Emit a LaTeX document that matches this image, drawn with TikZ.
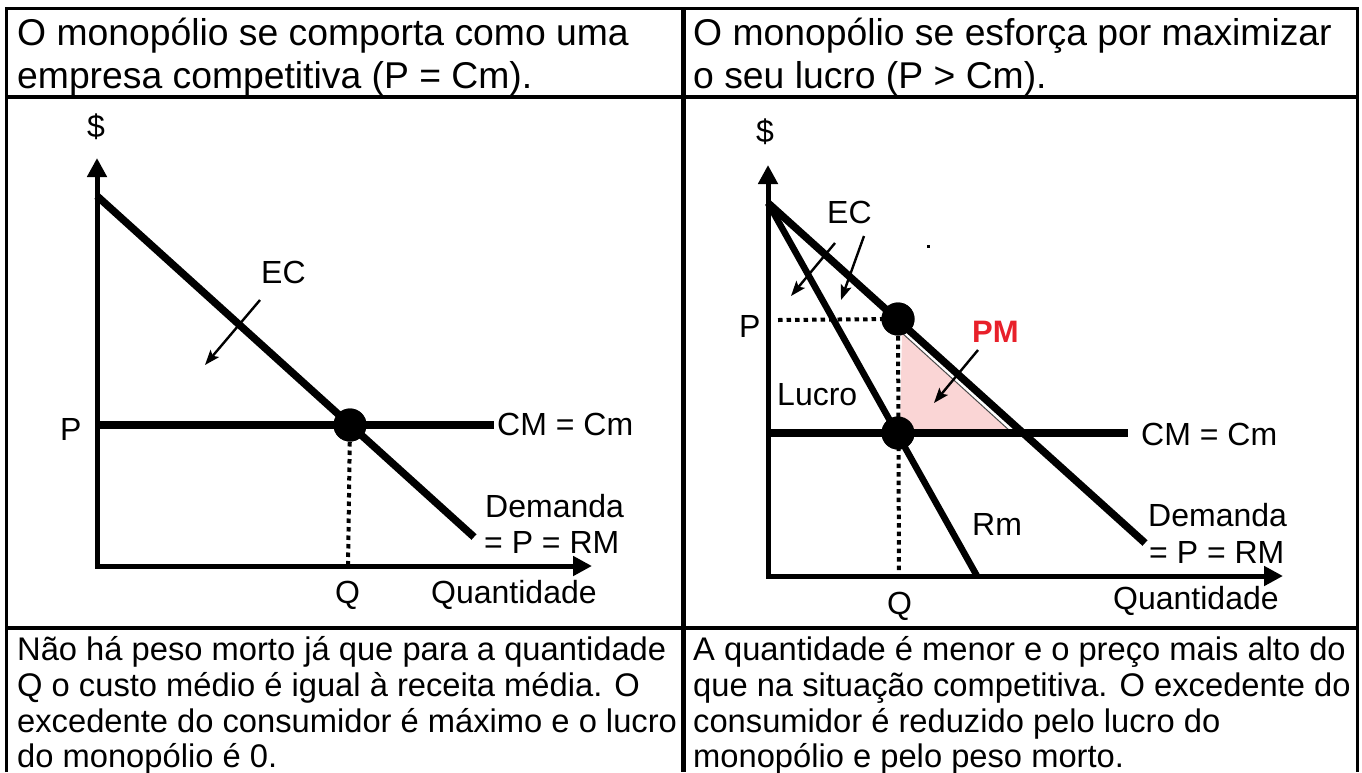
\documentclass[tikz,border=0pt]{standalone}
\usepackage{fontspec}
\setmainfont{Liberation Sans}
\usetikzlibrary{arrows.meta}
\definecolor{pmred}{RGB}{232,32,42}
\definecolor{pmfill}{RGB}{250,213,213}
\begin{document}
\begin{tikzpicture}[x=1pt,y=-1pt,
  border/.style={line width=3pt},
  divider/.style={line width=4.5pt},
  axisboth/.style={line width=5pt,{Triangle[width=19pt,length=19pt]}-{Triangle[width=19pt,length=19pt]}},
  curve/.style={line width=7.5pt},
  guide/.style={line width=4pt,dash pattern=on 4.5pt off 4pt},
  ecarrow/.style={line width=2.4pt,-{Stealth[length=15pt,width=11pt,inset=3pt]}},
  eqpoint/.style={circle,fill=black,inner sep=0pt,minimum size=33pt},
  head/.style={anchor=base west,inner sep=0pt,font=\fontsize{37.3}{43}\selectfont},
  body/.style={anchor=base west,inner sep=0pt,font=\fontsize{32.7}{36}\selectfont},
  lab/.style={anchor=base west,inner sep=0pt,font=\fontsize{32}{36}\selectfont},
  pmlab/.style={anchor=base west,inner sep=0pt,text=pmred,font=\fontsize{31}{36}\selectfont\bfseries},
]
\useasboundingbox (0,0) rectangle (1362,772);

% ---------- table ----------
\coordinate (t-tl) at (6,8);
\coordinate (t-tr) at (1357,8);
\coordinate (t-bl) at (6,772);
\coordinate (t-br) at (1357,772);
\coordinate (t-mt) at (683,8);
\coordinate (t-mb) at (683,772);
\coordinate (t-h1) at (6,97);
\coordinate (t-h2) at (1357,97);
\coordinate (t-f1) at (6,628);
\coordinate (t-f2) at (1357,628);
\draw[border] (t-bl) -- (t-tl) -- (t-tr) -- (t-br);
\draw[line width=5pt] (t-mt) -- (t-mb);
\draw[divider] (t-h1) -- (t-h2);
\draw[divider] (t-f1) -- (t-f2);

% ---------- headers ----------
\node[head] (h1a) at (17,45) {O monopólio se comporta como uma};
\node[head] (h1b) at (17,88) {empresa competitiva (P = Cm).};
\node[head] (h2a) at (693,45) {O monopólio se esforça por maximizar};
\node[head] (h2b) at (693,88) {o seu lucro (P > Cm).};

% ---------- footers ----------
\node[body] (f1a) at (17,660) {Não há peso morto já que para a quantidade};
\node[body] (f1b) at (17,696) {Q o custo médio é igual à receita média. O};
\node[body] (f1c) at (17,732) {excedente do consumidor é máximo e o lucro};
\node[body] (f1d) at (17,767) {do monopólio é 0.};
\node[body] (f2a) at (693,660) {A quantidade é menor e o preço mais alto do};
\node[body] (f2b) at (693,696) {que na situação competitiva. O excedente do};
\node[body] (f2c) at (693,732) {consumidor é reduzido pelo lucro do};
\node[body] (f2d) at (693,767) {monopólio e pelo peso morto.};

% ---------- left graph ----------
\coordinate (L-o) at (97,566);
\coordinate (L-ytop) at (97,158);
\coordinate (L-xend) at (592,566);
\coordinate (L-d1) at (97,196);
\coordinate (L-d2) at (474,537);
\coordinate (L-c1) at (97,425);
\coordinate (L-c2) at (494,425);
\coordinate (L-qa) at (348,566);
\coordinate (L-eca) at (260,300);
\coordinate (L-ecb) at (205,365);
\node[eqpoint] (L-e) at (350,425) {};
\draw[guide] (L-e.center) -- (L-qa);
\draw[axisboth] (L-ytop) -- (L-o) -- (L-xend);
\draw[curve] (L-d1) -- (L-d2);
\draw[curve] (L-c1) -- (L-c2);
\node[eqpoint] at (L-e) {};
\draw[ecarrow] (L-eca) -- (L-ecb);
\node[lab] (L-dollar) at (87,137) {\$};
\node[lab] (L-P) at (60,440) {P};
\node[lab] (L-EC) at (261,283) {EC};
\node[lab] (L-cm) at (497,435) {CM = Cm};
\node[lab] (L-dem) at (485,517) {Demanda};
\node[lab] (L-rm) at (484,553) {= P = RM};
\node[lab] (L-Q) at (335,603) {Q};
\node[lab] (L-qty) at (431,603) {Quantidade};

% ---------- right graph ----------
\coordinate (R-o) at (768,576);
\coordinate (R-ytop) at (768,165);
\coordinate (R-xend) at (1283,576);
\coordinate (R-d1) at (768,203);
\coordinate (R-d2) at (1145,543);
\coordinate (R-m2) at (977,576);
\coordinate (R-c1) at (768,433);
\coordinate (R-c2) at (1128,433);
\coordinate (R-pa) at (778,320);
\coordinate (R-qa) at (899,576);
\coordinate (R-t1) at (902,333);
\coordinate (R-t2) at (900,431);
\coordinate (R-t3) at (1010,431);
\coordinate (R-ec1a) at (835,243);
\coordinate (R-ec1b) at (791,296);
\coordinate (R-ec2a) at (864,236);
\coordinate (R-ec2b) at (841,300);
\coordinate (R-pma) at (978,350);
\coordinate (R-pmb) at (934,403);
\node[eqpoint] (R-e1) at (898,319) {};
\node[eqpoint] (R-e2) at (898,433) {};
\fill[pmfill] (R-t1) -- (R-t2) -- (R-t3) -- cycle;
\draw[line width=1pt,black!70] (R-t1) -- (R-t3);
\draw[guide] (R-pa) -- (R-e1.center);
\draw[guide] (R-e1.center) -- (R-qa);
\draw[axisboth] (R-ytop) -- (R-o) -- (R-xend);
\draw[curve] (R-d1) -- (R-d2);
\draw[line width=6.5pt] (R-d1) -- (R-m2);
\draw[curve] (R-c1) -- (R-c2);
\node[eqpoint] at (R-e1) {};
\node[eqpoint] at (R-e2) {};
\draw[ecarrow] (R-ec1a) -- (R-ec1b);
\draw[ecarrow] (R-ec2a) -- (R-ec2b);
\draw[ecarrow] (R-pma) -- (R-pmb);
\fill (926.5,244.5) rectangle (929.5,247.5);
\node[lab] (R-dollar) at (756,142) {\$};
\node[lab] (R-P) at (739,337) {P};
\node[lab] (R-EC) at (827,223) {EC};
\node[pmlab] (R-PM) at (972,342) {PM};
\node[lab] (R-lucro) at (777,405) {Lucro};
\node[lab] (R-rmlab) at (972,535) {Rm};
\node[lab] (R-cm) at (1141,445) {CM = Cm};
\node[lab] (R-dem) at (1148,526) {Demanda};
\node[lab] (R-rm) at (1149,563) {= P = RM};
\node[lab] (R-Q) at (887,614) {Q};
\node[lab] (R-qty) at (1113,609) {Quantidade};
\end{tikzpicture}
\end{document}
